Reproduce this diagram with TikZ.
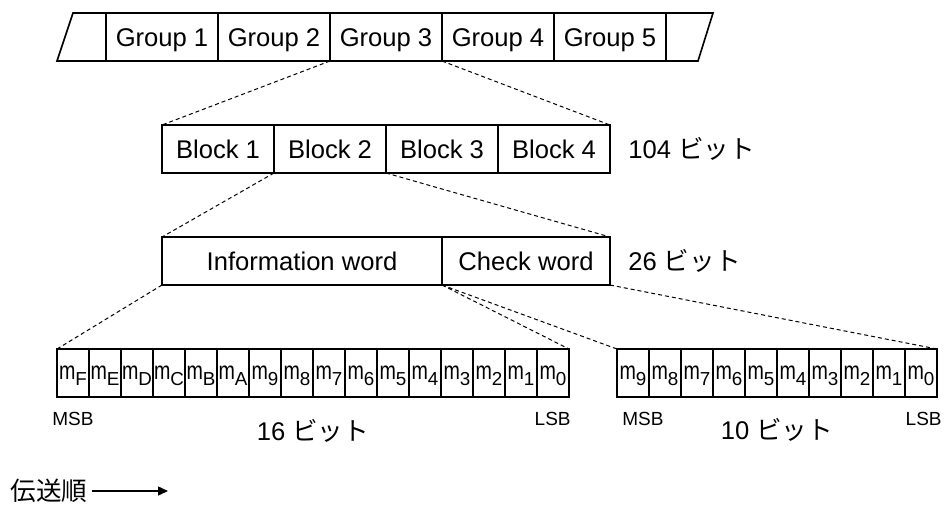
\documentclass[tikz,border=0pt]{standalone}
\usepackage{fontspec}
\setmainfont{Liberation Sans}
\newfontfamily\jpfont{Noto Sans CJK JP}
\usepackage{graphicx}
\usetikzlibrary{arrows.meta, positioning}

\newcommand{\mbit}[1]{\raisebox{-3pt}{\scalebox{0.78}[1]{m}\raisebox{-3.2pt}{\fontsize{9.4}{9}\selectfont #1}}}

\begin{document}
\begin{tikzpicture}[
    x=0.5pt, y=-0.5pt,
    cell/.style={draw, rectangle, line width=0.8pt, minimum width=56pt, minimum height=24pt, inner sep=0pt, outer sep=0pt, text height=9.2pt, text depth=0pt, font=\fontsize{12.8}{15}\selectfont},
    bitcell/.style={draw, rectangle, line width=0.8pt, minimum width=16pt, minimum height=24pt, inner sep=0pt, outer sep=0pt, text height=4pt, text depth=4pt, font=\fontsize{12.6}{12}\selectfont},
    lbl/.style={inner sep=0pt, text height=9.2pt, text depth=0pt, font=\fontsize{12.8}{15}\selectfont},
    tag/.style={inner sep=0pt, font=\fontsize{9.5}{11}\selectfont},
    zoomline/.style={dash pattern=on 2pt off 1.5pt, line width=0.5pt},
    rim/.style={line width=0.8pt, line join=miter},
    arrow/.style={-{Triangle[length=5pt, width=4.5pt]}, line width=0.75pt}
    ]

    \useasboundingbox (0,0) rectangle (944,505);

    \node[cell, anchor=west] (grp1) at (106,37) {Group 1};
    \node[cell, right=0pt of grp1] (grp2) {Group 2};
    \node[cell, right=0pt of grp2] (grp3) {Group 3};
    \node[cell, right=0pt of grp3] (grp4) {Group 4};
    \node[cell, right=0pt of grp4] (grp5) {Group 5};
    \coordinate (ltop) at (73,13);
    \coordinate (lbot) at (57,61);
    \coordinate (rtop) at (713,13);
    \coordinate (rbot) at (698,61);
    \draw[rim] (grp1.north west) -- (ltop) -- (lbot) -- (grp1.south west);
    \draw[rim] (grp5.north east) -- (rtop) -- (rbot) -- (grp5.south east);

    \node[cell, anchor=west] (blk1) at (162,149) {Block 1};
    \node[cell, right=0pt of blk1] (blk2) {Block 2};
    \node[cell, right=0pt of blk2] (blk3) {Block 3};
    \node[cell, right=0pt of blk3] (blk4) {Block 4};
    \node[lbl, right=9pt of blk4] (blkbits) {104 {\jpfont ビット}};

    \node[cell, anchor=west, minimum width=140pt] (info) at (162,261) {Information word};
    \node[cell, right=0pt of info, minimum width=84pt] (chk) {Check word};
    \node[lbl, right=9pt of chk] (wordbits) {26 {\jpfont ビット}};

    \node[bitcell, anchor=west] (ib15) at (57,373) {\mbit{F}};
    \foreach \i/\s [remember=\i as \prev (initially 15)] in {14/E,13/D,12/C,11/B,10/A,9/9,8/8,7/7,6/6,5/5,4/4,3/3,2/2,1/1,0/0}
        \node[bitcell, right=0pt of ib\prev] (ib\i) {\mbit{\s}};

    \node[bitcell, anchor=west] (cb9) at (617,373) {\mbit{9}};
    \foreach \i [remember=\i as \prev (initially 9)] in {8,...,0}
        \node[bitcell, right=0pt of cb\prev] (cb\i) {\mbit{\i}};

    \node[tag, below right=7.5pt and -2.5pt of ib15.south west] (imsb) {MSB};
    \node[tag, below left=7.5pt and -1pt of ib0.south east] (ilsb) {LSB};
    \node[tag, below right=7.5pt and 2.5pt of cb9.south west] (cmsb) {MSB};
    \node[tag, below left=7.5pt and -2.5pt of cb0.south east] (clsb) {LSB};
    \node[lbl, anchor=base] (infobits) at ([yshift=-21.5pt]ib8.south east) {16 {\jpfont ビット}};
    \node[lbl, anchor=base] (chkbits) at ([yshift=-21pt]cb5.south east) {10 {\jpfont ビット}};

    \draw[zoomline] (grp3.south west) -- (blk1.north west);
    \draw[zoomline] (grp3.south east) -- (blk4.north east);
    \draw[zoomline] (blk2.south west) -- (info.north west);
    \draw[zoomline] (blk2.south east) -- (chk.north east);
    \draw[zoomline] (info.south west) -- (ib15.north west);
    \draw[zoomline] (info.south east) -- (ib0.north east);
    \draw[zoomline] (info.south east) -- (cb9.north west);
    \draw[zoomline] (chk.south east) -- (cb0.north east);

    \node[inner sep=2pt, anchor=east, font=\fontsize{12.8}{15}\selectfont\jpfont] (order) at (92,491) {伝送順};
    \coordinate (orderend) at (168,491);
    \draw[arrow] (order.east) -- (orderend);

\end{tikzpicture}
\end{document}
